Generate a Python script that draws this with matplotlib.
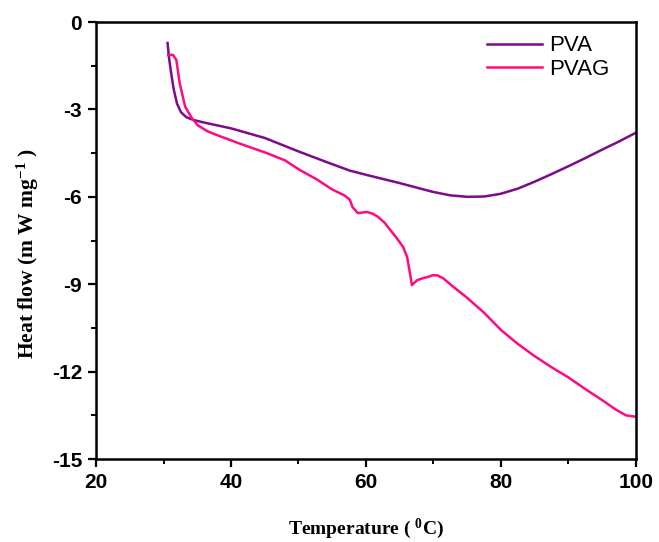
import numpy as np
import matplotlib
matplotlib.use("Agg")
import matplotlib.pyplot as plt
from matplotlib.font_manager import FontProperties

# values
pva_temp = [30.6, 30.8, 31.1, 31.5, 32.0, 32.6, 33.4, 34.4, 36.0, 40.0, 45.0, 50.2, 55.0, 57.6,
            60.1, 65.0, 69.9, 72.5, 75.0, 77.5, 79.9, 82.5, 85.0, 87.5, 90.0, 92.5, 95.0, 97.5, 100.0]
pva_flow = [-0.72, -1.2, -1.7, -2.3, -2.8, -3.1, -3.27, -3.36, -3.45, -3.65, -3.98, -4.46, -4.88,
            -5.1, -5.25, -5.53, -5.83, -5.95, -6.0, -5.99, -5.9, -5.72, -5.48, -5.22, -4.95,
            -4.67, -4.38, -4.1, -3.8]

pvag_temp = [30.7, 31.4, 31.9, 32.4, 33.2, 34.2, 35.1, 36.5, 37.9, 41.0, 45.3, 48.0, 50.2, 52.7,
             55.0, 56.8, 57.6, 58.0, 58.8, 60.1, 61.0, 61.8, 62.8, 63.6, 64.5, 65.5, 66.1,
             66.5, 66.8, 67.6, 68.5, 69.2, 69.9, 70.6, 71.4, 73.0, 75.0, 77.5, 80.0, 82.5, 85.0,
             87.5, 90.0, 92.5, 95.0, 97.0, 98.5, 100.0]
pvag_flow = [-1.13, -1.13, -1.3, -2.1, -2.9, -3.3, -3.55, -3.75, -3.88, -4.15, -4.5, -4.75, -5.08,
             -5.4, -5.75, -5.95, -6.1, -6.35, -6.56, -6.52, -6.58, -6.69, -6.9, -7.14, -7.4, -7.72,
             -8.07, -8.6, -9.03, -8.86, -8.79, -8.75, -8.69, -8.7, -8.79, -9.1, -9.47, -9.98, -10.57,
             -11.05, -11.47, -11.85, -12.2, -12.6, -12.98, -13.3, -13.5, -13.55]

tick_font = {"family": "Liberation Sans", "weight": "bold", "size": 15}
label_font = {"family": "Liberation Serif", "weight": "bold", "size": 14}

plt.rcParams["mathtext.fontset"] = "custom"
plt.rcParams["mathtext.rm"] = "Liberation Serif:bold"
plt.rcParams["mathtext.it"] = "Liberation Serif:bold"
plt.rcParams["mathtext.bf"] = "Liberation Serif:bold"

fig = plt.figure(figsize=(6.59, 5.42), dpi=100)
ax = fig.add_axes([0.1457, 0.1531, 0.8193, 0.8063])

ax.plot(pva_temp, pva_flow, color="#7D0A8C", lw=1.8, label="PVA")
ax.plot(pvag_temp, pvag_flow, color="#FF0A80", lw=1.8, label="PVAG")

ax.set_xlim(20, 100)
ax.set_ylim(-15, 0)
ax.set_xticks([20, 40, 60, 80, 100])
ax.set_xticks([30, 50, 70, 90], minor=True)
ax.set_yticks([-15, -12, -9, -6, -3, 0])
ax.set_yticks([-13.5, -10.5, -7.5, -4.5, -1.5], minor=True)
ax.set_yticklabels(["-15", "-12", "-9", "-6", "-3", "0"])

for lbl in ax.get_xticklabels() + ax.get_yticklabels():
    lbl.set_fontproperties(FontProperties(**tick_font))

ax.tick_params(which="major", direction="out", length=6, width=1.6, pad=4)
ax.tick_params(which="minor", direction="out", length=3.5, width=1.4)
for s in ax.spines.values():
    s.set_linewidth(1.8)

ax.set_xlabel("Temperature ( $^{0}$C)", fontdict=label_font, labelpad=18)
ax.set_ylabel("Heat flow (m W mg$^{-1}$ )", fontdict=dict(label_font, size=15.5))
ax.yaxis.set_label_coords(-0.102, 0.47)

leg = ax.legend(loc="upper right", frameon=False, prop={"family": "Liberation Sans", "size": 16},
                handlelength=2.5, handletextpad=0.3, borderaxespad=0.2, labelspacing=0.1,
                bbox_to_anchor=(0.975, 1.0))

fig.savefig("out.png", dpi=100)
